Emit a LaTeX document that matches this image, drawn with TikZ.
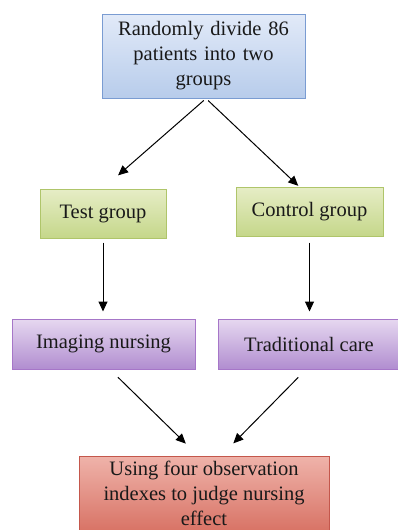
\documentclass[tikz,border=0pt]{standalone}
\usepackage{fontspec}
\setmainfont{Liberation Serif}
\usetikzlibrary{arrows.meta}
\definecolor{bluetop}{HTML}{E2EAF8}
\definecolor{bluebot}{HTML}{B7CCEB}
\definecolor{blueline}{HTML}{7A9CD2}
\definecolor{greentop}{HTML}{E6EDC6}
\definecolor{greenbot}{HTML}{C5D78A}
\definecolor{greenline}{HTML}{AFC56A}
\definecolor{purptop}{HTML}{E6D8F0}
\definecolor{purpbot}{HTML}{B18DD0}
\definecolor{purpline}{HTML}{A676C8}
\definecolor{redtop}{HTML}{EFB3AA}
\definecolor{redbot}{HTML}{D66D5F}
\definecolor{redline}{HTML}{C4574C}
\tikzset{
  box/.style={draw, line width=1pt, align=center, inner sep=1pt,
    font=\fontsize{20.5}{25}\selectfont, text=black!90},
  bluebox/.style={box, draw=blueline, top color=bluetop, bottom color=bluebot},
  greenbox/.style={box, draw=greenline, top color=greentop, bottom color=greenbot},
  purpbox/.style={box, draw=purpline, top color=purptop, bottom color=purpbot},
  redbox/.style={box, draw=redline, top color=redtop, bottom color=redbot},
  arr/.style={-{Triangle[length=10pt,width=9pt]}, line width=1pt, black}
}
\begin{document}
\begin{tikzpicture}[x=1pt,y=-1pt]
\useasboundingbox (0,0) rectangle (398,530);
\node[bluebox, minimum width=203pt, minimum height=84pt, text width=200pt] (top) at (203.5,56) {Randomly divide 86\\patients into two\\groups};
\node[greenbox, minimum width=126pt, minimum height=49pt] (test) at (103,213.5) {Test group};
\node[greenbox, minimum width=147pt, minimum height=49pt] (ctrl) at (309.5,211.5) {Control group};
\node[purpbox, minimum width=183pt, minimum height=50pt] (img) at (103.5,344) {Imaging nursing};
\node[purpbox, minimum width=182pt, minimum height=50pt] (trad) at (309,344) {Traditional care};
\node[redbox, minimum width=250pt, minimum height=82pt] (res) at (204,497) {};
\node[font=\fontsize{20.5}{25}\selectfont, text=black!90, align=center, inner sep=0pt] (restext) at (204,493.5) {Using four observation\\indexes to judge nursing\\effect};
\draw[arr, shorten <=3pt, shorten >=20pt] ([xshift=2.5pt]top.south) -- (test.north);
\draw[arr, shorten <=3pt, shorten >=1pt] ([xshift=2.5pt]top.south) -- ([xshift=-10.5pt]ctrl.north);
\draw[arr, shorten <=4pt, shorten >=7pt] (test.south) -- (test.south |- img.north);
\draw[arr, shorten <=6pt, shorten >=7pt] (ctrl.south) -- (ctrl.south |- trad.north);
\draw[arr, shorten <=11pt, shorten >=17pt] ([xshift=6.5pt]img.south) -- ([xshift=-6pt]res.north);
\draw[arr, shorten <=11pt, shorten >=17pt] ([xshift=-3pt]trad.south) -- ([xshift=17.4pt]res.north);
\end{tikzpicture}
\end{document}
